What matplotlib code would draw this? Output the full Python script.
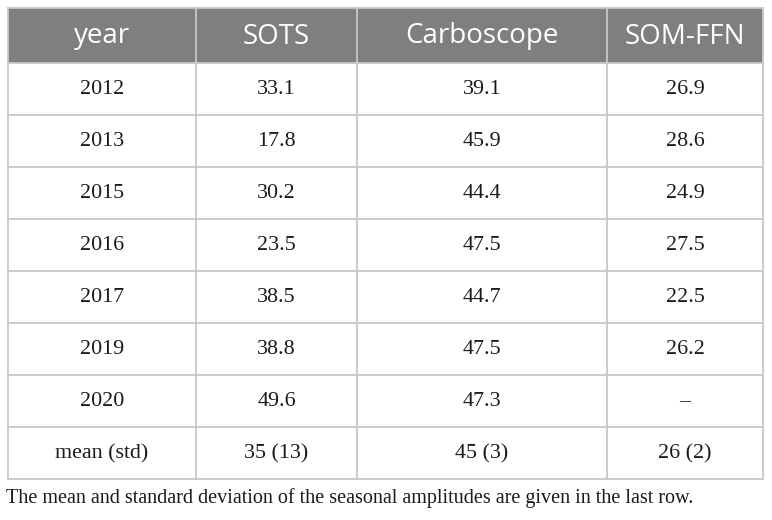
import matplotlib
matplotlib.use("Agg")
import matplotlib.pyplot as plt
from matplotlib.patches import Rectangle

columns = ["year", "SOTS", "Carboscope", "SOM-FFN"]
years = ["2012", "2013", "2015", "2016", "2017", "2019", "2020"]
sots = [33.1, 17.8, 30.2, 23.5, 38.5, 38.8, 49.6]
carboscope = [39.1, 45.9, 44.4, 47.5, 44.7, 47.5, 47.3]
som_ffn = [26.9, 28.6, 24.9, 27.5, 22.5, 26.2, None]
summary_label = "mean (std)"
summary = ["35 (13)", "45 (3)", "26 (2)"]
caption = "The mean and standard deviation of the seasonal amplitudes are given in the last row."

W, H = 772, 520
fig = plt.figure(figsize=(W / 100, H / 100), dpi=100)
ax = fig.add_axes([0, 0, 1, 1])
ax.set_xlim(0, W)
ax.set_ylim(H, 0)
ax.axis("off")

col_edges = [8, 196, 357, 607, 763]
top = 8
header_h = 55
row_h = 52

def fmt(v):
    return "\u2013" if v is None else f"{v:.1f}"

rows = [[y, fmt(a), fmt(b), fmt(c)] for y, a, b, c in zip(years, sots, carboscope, som_ffn)]
rows.append([summary_label] + summary)

n_rows = len(rows)
bottom = top + header_h + n_rows * row_h

# header background
ax.add_patch(Rectangle((col_edges[0], top), col_edges[-1] - col_edges[0], header_h,
                       facecolor="#7f7f7f", edgecolor="none", zorder=1))

line_c = "#c8c8c8"
lw = 1.3
ys = [top, top + header_h] + [top + header_h + (i + 1) * row_h for i in range(n_rows)]
for y in ys:
    ax.plot([col_edges[0], col_edges[-1]], [y, y], color=line_c, lw=lw, zorder=2,
            solid_capstyle="projecting")
for x in col_edges:
    ax.plot([x, x], [top, bottom], color=line_c, lw=lw, zorder=2,
            solid_capstyle="projecting")

for j, name in enumerate(columns):
    cx = (col_edges[j] + col_edges[j + 1]) / 2
    ax.text(cx, top + header_h / 2 + 1, name, ha="center", va="center",
            fontsize=20, color="white", family="Open Sans", zorder=3)

for i, r in enumerate(rows):
    cy = top + header_h + i * row_h + row_h / 2 + 1
    for j, val in enumerate(r):
        cx = (col_edges[j] + col_edges[j + 1]) / 2
        ax.text(cx, cy, val, ha="center", va="center", fontsize=15.8,
                color="#1a1a1a", family="Liberation Serif", zorder=3)

ax.text(6, 498, caption, ha="left", va="center", fontsize=14.5,
        color="#1a1a1a", family="Liberation Serif")

fig.savefig("out.png", dpi=100)
